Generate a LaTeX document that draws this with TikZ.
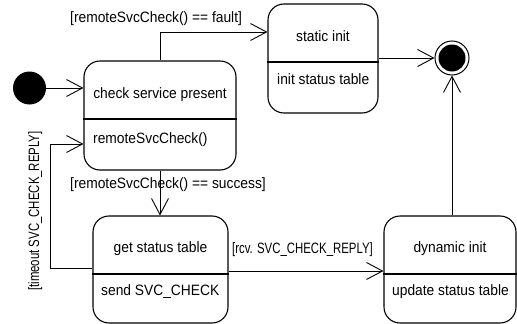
\documentclass[tikz,border=0pt]{standalone}
\usepackage{fontspec}
\setmainfont{Liberation Sans}[FakeStretch=0.92]
\newfontfamily\narrowfont{Liberation Sans}[FakeStretch=0.76]
\usetikzlibrary{arrows.meta}

\tikzset{
  statebox/.style={draw, rounded corners=16pt, line width=1.1pt, inner sep=0pt},
  arr/.style={line width=0.9pt, -{Straight Barb[length=16pt,width=17pt,line width=0.9pt]}},
  title/.style={anchor=base, inner sep=0pt},
  body/.style={anchor=base west, inner sep=0pt},
  guard/.style={anchor=base west, inner sep=0pt},
  narrowguard/.style={inner sep=0pt, font=\narrowfont\fontsize{15}{17}\selectfont},
}

\begin{document}
\begin{tikzpicture}[x=1pt, y=-1pt, font=\fontsize{15}{17}\selectfont]
\useasboundingbox (0,0) rectangle (517,324);

% initial and final pseudo-states
\node[circle, fill=black, minimum size=33pt, inner sep=0pt] (ini) at (29.5,88) {};
\node[circle, draw, line width=1pt, minimum size=34pt, inner sep=0pt,
      path picture={\fill (path picture bounding box.center) circle (13.5pt);}] (fin) at (452,58) {};

% states
\node[statebox, minimum width=152pt, minimum height=109pt] (chk) at (160,115.5) {};
\draw[line width=1.1pt] (chk.west |- 0,119) -- (chk.east |- 0,119);
\node[title] (chkT) at (160,98) {check service present};
\node[body] (chkB) at (93,143) {remoteSvcCheck()};

\node[statebox, minimum width=110pt, minimum height=109pt] (stat) at (323,58.5) {};
\draw[line width=1.1pt] (stat.west |- 0,62) -- (stat.east |- 0,62);
\node[title] (statT) at (323,41) {static init};
\node[body] (statB) at (277,84) {init status table};

\node[statebox, minimum width=135pt, minimum height=107pt] (get) at (160.5,269.5) {};
\draw[line width=1.1pt] (get.west |- 0,274) -- (get.east |- 0,274);
\node[title] (getT) at (160.5,252) {get status table};
\node[body] (getB) at (101,295) {send SVC\_CHECK};

\node[statebox, minimum width=132pt, minimum height=107pt] (dyn) at (450,269.5) {};
\draw[line width=1.1pt] (dyn.west |- 0,274) -- (dyn.east |- 0,274);
\node[title] (dynT) at (450,252) {dynamic init};
\node[body] (dynB) at (392,295) {update status table};

% transitions
\draw[arr] (ini) -- (ini -| chk.west);

\coordinate (fk) at (160,32);
\draw[arr] (chk.north -| fk) -- (fk) -- (fk -| stat.west);
\node[guard] (gFault) at (70,22) {[remoteSvcCheck() == fault]};

\draw[arr] (chk.south) -- (chk.south |- get.north);
\node[guard] (gSucc) at (70,188) {[remoteSvcCheck() == success]};

\coordinate (lp) at (50,268);
\coordinate (lpin) at (84,144);
\draw[arr] (get.west |- lp) -- (lp) |- (lpin -| chk.west);
\node[narrowguard, anchor=base, rotate=90] (gTime) at (39,211) {[timeout SVC\_CHECK\_REPLY]};

\coordinate (rc) at (0,271);
\draw[arr] (get.east |- rc) -- (dyn.west |- rc);
\node[narrowguard, anchor=base west] (gRcv) at (232,253) {[rcv. SVC\_CHECK\_REPLY]};

\draw[arr] (stat.east |- fin) -- (fin);
\draw[arr] (fin |- dyn.north) -- (fin);
\end{tikzpicture}
\end{document}
